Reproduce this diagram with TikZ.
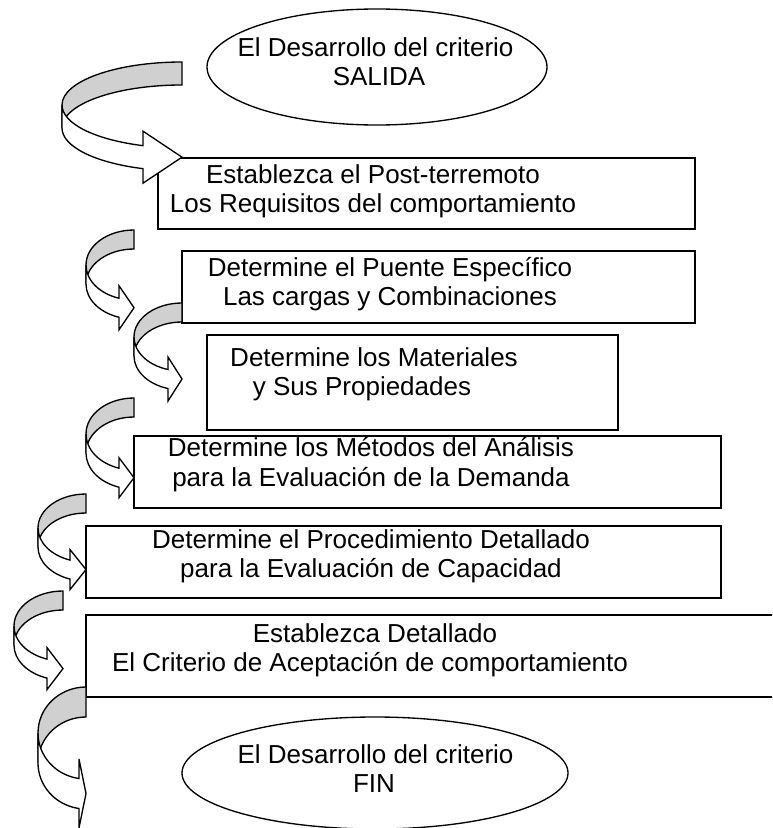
\documentclass[tikz,border=0pt]{standalone}
\usepackage{fontspec}
\setmainfont{Liberation Sans}
\usetikzlibrary{shapes.geometric}
\definecolor{bandgray}{RGB}{208,208,208}
\newcommand\curvarr[7]{% L R T hR th ah aw
  \pgfmathsetmacro\crx{#2-#1}
  \pgfmathsetmacro\ccy{#3+#4}
  \pgfmathsetmacro\ccyb{#3+#4+#5}
  \pgfmathsetmacro\cxo{#2-#6}
  \pgfmathsetmacro\ct{acos(-#6/\crx)}
  \pgfmathsetmacro\cya{\ccy+#4*sin(\ct)}
  \pgfmathsetmacro\cyb{\cya+#5}
  \pgfmathsetmacro\cdh{(#7-#5)/2}
  \pgfmathsetmacro\cyu{\cya-\cdh}
  \pgfmathsetmacro\cyl{\cyb+\cdh}
  \pgfmathsetmacro\ctip{(\cya+\cyb)/2}
  \filldraw[arrback] (#2,#3) arc[start angle=270,end angle=180,x radius=\crx,y radius=#4]
     -- (#1,\ccyb) arc[start angle=180,end angle=270,x radius=\crx,y radius=#4] -- cycle;
  \filldraw[arrfront] (#1,\ccy) arc[start angle=180,end angle=\ct,x radius=\crx,y radius=#4]
     -- (\cxo,\cyu) -- (#2,\ctip) -- (\cxo,\cyl) -- (\cxo,\cyb)
     arc[start angle=\ct,end angle=180,x radius=\crx,y radius=#4] -- cycle;
}
\begin{document}
\begin{tikzpicture}[x=0.75pt,y=-0.75pt,
  box/.style={draw,line width=1pt,inner sep=0pt,fill=white},
  oval/.style={draw,ellipse,line width=1pt,inner sep=0pt},
  txt/.style={inner sep=0pt,anchor=base,font=\fontsize{19.5}{22.5}\selectfont},
  arrback/.style={draw,line width=1pt,fill=bandgray},
  arrfront/.style={draw,line width=1pt,fill=white}]
\useasboundingbox (0,0) rectangle (772,828);
\clip (0,0) rectangle (772,828);
% boxes and ovals
\node[oval,minimum width=255pt,minimum height=87pt] (start) at (377,67) {};
\node[box,minimum width=402.75pt,minimum height=53.25pt] (b1) at (426.5,193.5) {};
\node[box,minimum width=384.75pt,minimum height=54pt] (b2) at (438.5,287) {};
\node[box,minimum width=308.25pt,minimum height=71.25pt] (b3) at (412.5,382.5) {};
\node[box,minimum width=440.25pt,minimum height=54pt] (b4) at (427.5,472) {};
\node[box,minimum width=476.25pt,minimum height=54pt] (b5) at (403.5,562) {};
\node[box,minimum width=535.5pt,minimum height=61.5pt] (b6) at (443,656) {};
\node[oval,minimum width=289.5pt,minimum height=84pt] (end) at (375,773) {};
% texts
\node[txt] (s1) at (375.5,56) {El Desarrollo del criterio};
\node[txt] (s2) at (379,85) {SALIDA};
\node[txt] (t1a) at (373,183) {Establezca el Post-terremoto};
\node[txt] (t1b) at (373,212) {Los Requisitos del comportamiento};
\node[txt] (t2a) at (390,276) {Determine el Puente Específico};
\node[txt] (t2b) at (390,305) {Las cargas y Combinaciones};
\node[txt] (t3a) at (374,366) {Determine los Materiales};
\node[txt] (t3b) at (362,395) {y Sus Propiedades};
\node[txt] (t4a) at (371,456) {Determine los Métodos del Análisis};
\node[txt] (t4b) at (371,486) {para la Evaluación de la Demanda};
\node[txt] (t5a) at (371,548) {Determine el Procedimiento Detallado};
\node[txt] (t5b) at (371,577) {para la Evaluación de Capacidad};
\node[txt] (t6a) at (375,642) {Establezca Detallado};
\node[txt] (t6b) at (370,671) {El Criterio de Aceptación de comportamiento};
\node[txt] (e1) at (375.5,763) {El Desarrollo del criterio};
\node[txt] (e2) at (374,792) {FIN};
% curved arrows
\curvarr{62}{182}{62}{43}{23}{39}{52}
\curvarr{86}{134}{230}{35}{19}{15}{44}
\curvarr{134}{182}{303}{34}{19}{14}{44}
\curvarr{86}{134}{398}{36}{19}{15}{40}
\curvarr{38}{86}{494}{34}{19}{16}{40}
\curvarr{14}{63}{591}{35}{19}{16}{42}
\curvarr{38}{86}{687}{46}{30}{7}{69}
\end{tikzpicture}
\end{document}
